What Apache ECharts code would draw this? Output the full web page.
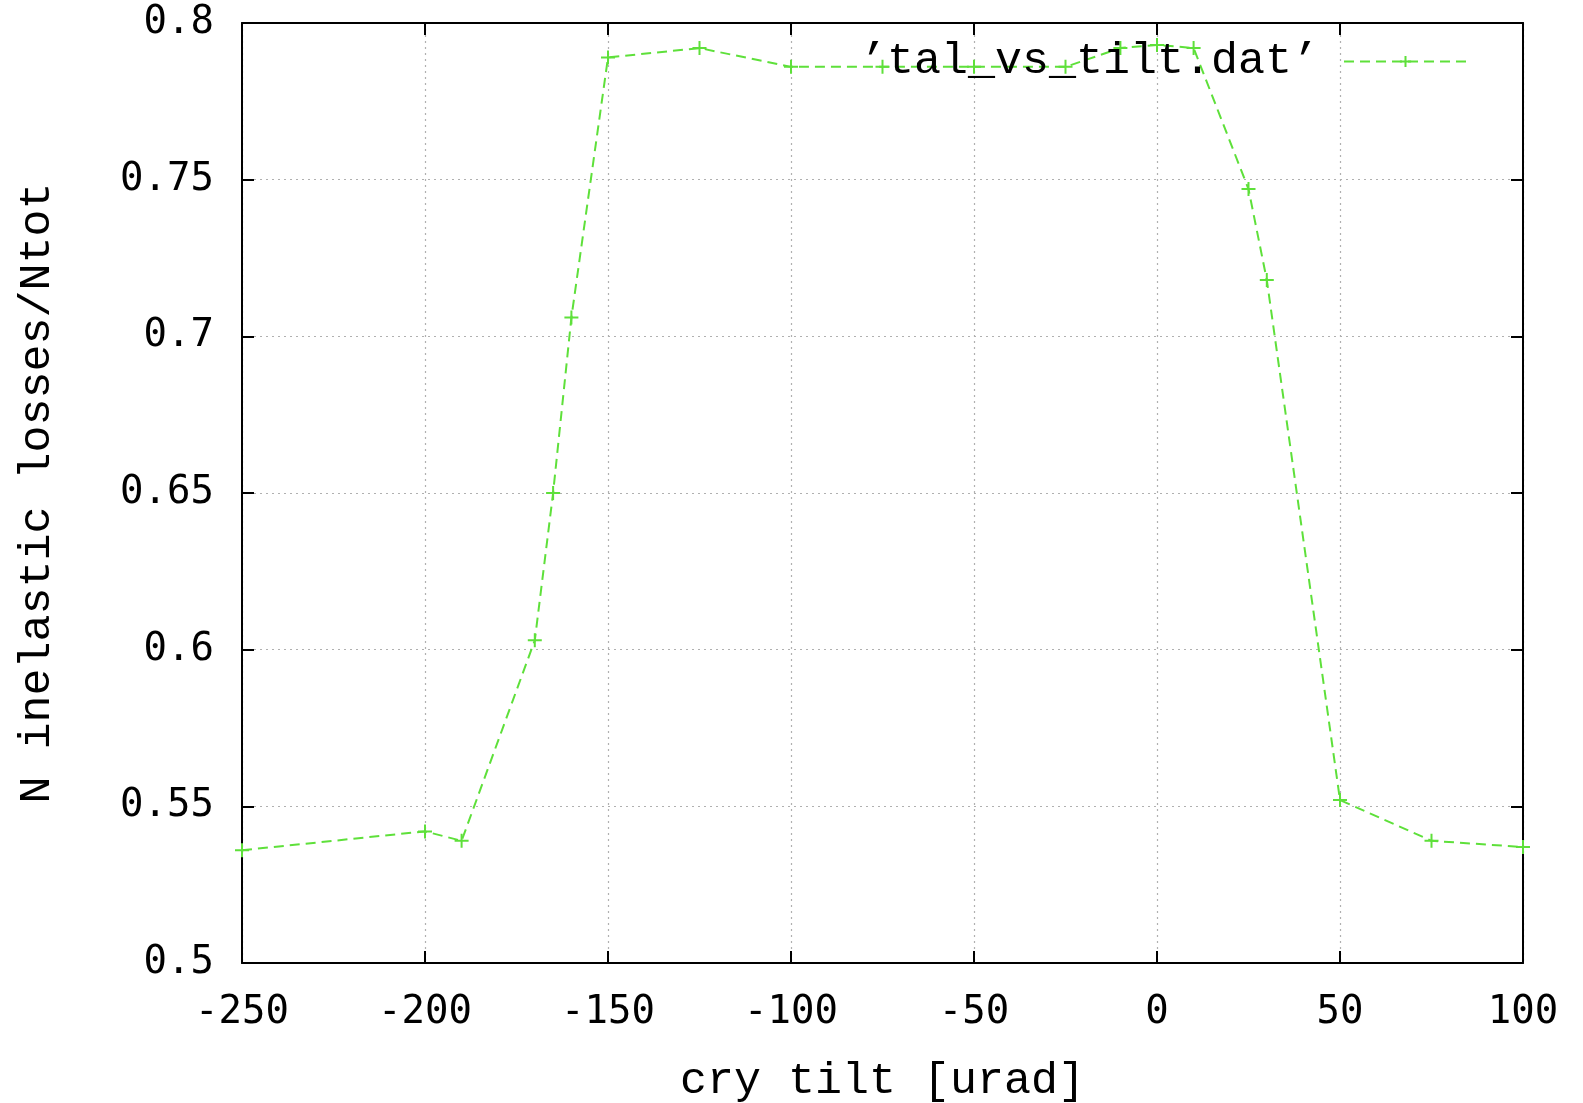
<!DOCTYPE html>
<html>
<head>
<meta charset="utf-8">
<title>tal_vs_tilt</title>
<script src="https://cdn.jsdelivr.net/npm/echarts@6/dist/echarts.min.js"></script>
<style>
  html, body { margin: 0; padding: 0; background: #ffffff; }
  #chart { width: 1583px; height: 1103px; }
</style>
</head>
<body>
<div id="chart"></div>
<script>
// Crystal tilt angle [urad]
const tilt = [-250, -200, -190, -170, -165, -160, -150, -125, -100, -75, -50, -25, -10, 0, 10, 25, 30, 50, 75, 100];
// Fraction of inelastic losses, N inelastic / Ntot
const lossFraction = [0.536, 0.542, 0.539, 0.603, 0.650, 0.706, 0.789, 0.792, 0.786, 0.786, 0.786, 0.786, 0.792, 0.793, 0.792, 0.747, 0.718, 0.552, 0.539, 0.537];

const seriesName = '\u2019tal_vs_tilt.dat\u2019';
const xTitle = 'cry tilt [urad]';
const yTitle = 'N inelastic losses/Ntot';

const points = tilt.map((t, i) => [t, lossFraction[i]]);

const lineColor = '#5ee03a';
const tickFont = 'DejaVu Sans Mono';
const titleFont = 'Liberation Mono';
const plus = 'path://M0,5 L10,5 M5,0 L5,10';

const frame = { show: true, onZero: false, lineStyle: { color: '#000', width: 2 } };
const innerTicks = { show: true, inside: true, length: 12, lineStyle: { color: '#000', width: 2 } };
const dottedGrid = { show: true, lineStyle: { color: '#b0b0b0', width: 1.2, type: [2, 4] } };

const chart = echarts.init(document.getElementById('chart'));
chart.setOption({
  animation: false,
  backgroundColor: '#ffffff',
  grid: { left: 242, right: 60, top: 23, bottom: 140, containLabel: false, outerBoundsMode: 'none' },
  legend: {
    data: [seriesName],
    top: 34,
    right: 110,
    align: 'right',
    itemWidth: 123,
    itemHeight: 14,
    textStyle: { fontFamily: titleFont, fontSize: 45, color: '#000', padding: [0, 20, 0, 0] }
  },
  xAxis: [
    {
      type: 'value', min: -250, max: 100, interval: 50, position: 'bottom',
      axisLine: frame, axisTick: innerTicks, splitLine: dottedGrid,
      axisLabel: { fontFamily: tickFont, fontSize: 39, color: '#000', margin: 30 },
      name: xTitle, nameLocation: 'middle', nameGap: 96,
      nameTextStyle: { fontFamily: titleFont, fontSize: 45, color: '#000' }
    },
    {
      type: 'value', min: -250, max: 100, interval: 50, position: 'top',
      axisLine: frame, axisTick: innerTicks, splitLine: { show: false },
      axisLabel: { show: false }
    }
  ],
  yAxis: [
    {
      type: 'value', min: 0.5, max: 0.8, interval: 0.05, position: 'left',
      axisLine: frame, axisTick: innerTicks, splitLine: dottedGrid,
      axisLabel: { fontFamily: tickFont, fontSize: 39, color: '#000', margin: 28 },
      name: yTitle, nameLocation: 'middle', nameGap: 182,
      nameTextStyle: { fontFamily: titleFont, fontSize: 45, color: '#000' }
    },
    {
      type: 'value', min: 0.5, max: 0.8, interval: 0.05, position: 'right',
      axisLine: frame, axisTick: innerTicks, splitLine: { show: false },
      axisLabel: { show: false }
    }
  ],
  series: [
    {
      name: seriesName,
      type: 'line',
      data: points,
      clip: false,
      symbol: plus,
      symbolSize: 14,
      showAllSymbol: true,
      lineStyle: { color: lineColor, width: 2, type: [10, 6] },
      itemStyle: { color: 'none', borderColor: lineColor, borderWidth: 2 },
      emphasis: { disabled: true }
    }
  ]
});
</script>
</body>
</html>
